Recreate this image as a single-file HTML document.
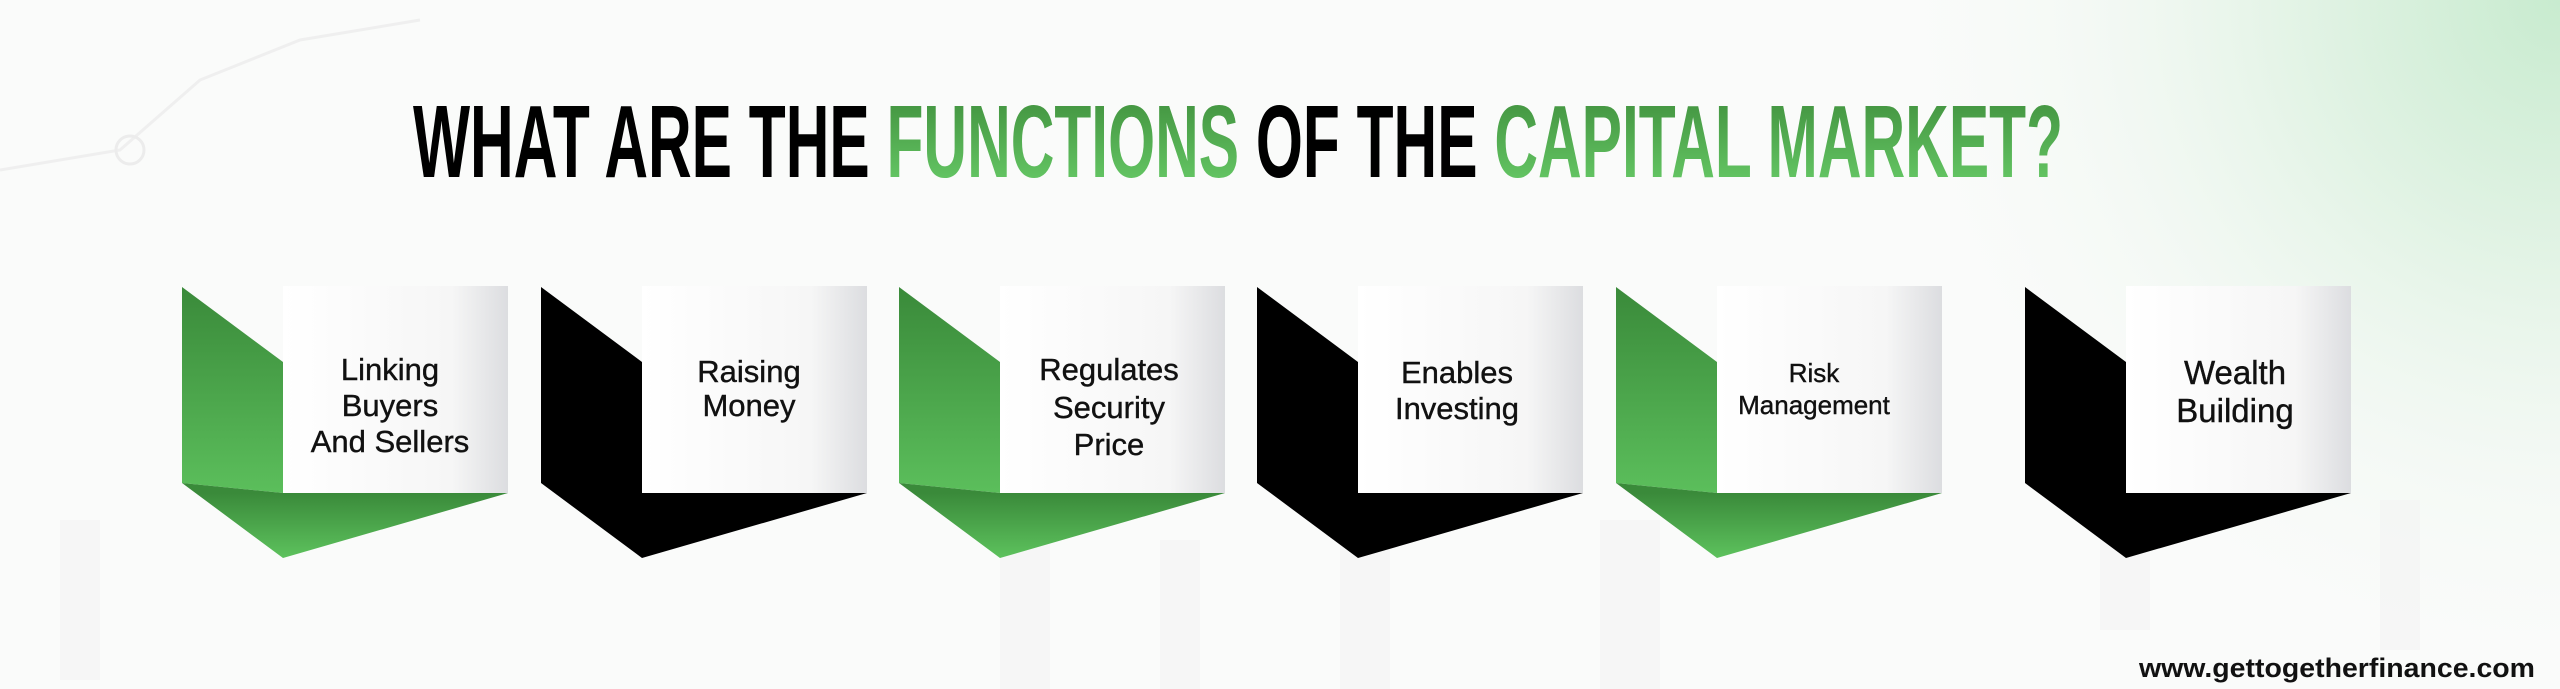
<!DOCTYPE html>
<html><head><meta charset="utf-8"><style>
html,body{margin:0;padding:0}
body{width:2560px;height:689px;overflow:hidden;background:#fafbfa;position:relative;font-family:"Liberation Sans",sans-serif}
svg{position:absolute;left:0;top:0}
</style></head><body>
<svg width="2560" height="689" viewBox="0 0 2560 689" xmlns="http://www.w3.org/2000/svg">
<defs>
<radialGradient id="tr" cx="2560" cy="0" r="700" gradientUnits="userSpaceOnUse">
<stop offset="0" stop-color="#c8ebcf"/><stop offset="0.45" stop-color="#e8f5ea"/><stop offset="1" stop-color="#fafbfa" stop-opacity="0"/>
</radialGradient>
<linearGradient id="g2" gradientUnits="userSpaceOnUse" x1="0" y1="287" x2="0" y2="558"><stop offset="0" stop-color="#3a8a3a"/><stop offset="1" stop-color="#66cf66"/></linearGradient>
<linearGradient id="gb" gradientUnits="userSpaceOnUse" x1="0" y1="493" x2="0" y2="558"><stop offset="0" stop-color="#3a8a3a"/><stop offset="1" stop-color="#5dc25d"/></linearGradient>
<linearGradient id="pw" x1="0" y1="0" x2="1" y2="0"><stop offset="0" stop-color="#ffffff"/><stop offset="0.75" stop-color="#f6f6f6"/><stop offset="1" stop-color="#dcdde0"/></linearGradient>
<linearGradient id="tg" x1="0" y1="0" x2="0" y2="1"><stop offset="0" stop-color="#3d8b3a"/><stop offset="1" stop-color="#6bd06b"/></linearGradient>
</defs>
<rect width="2560" height="689" fill="url(#tr)"/>
<g fill="#f1f2f2" opacity="0.5">
<rect x="60" y="520" width="40" height="160"/><rect x="1000" y="520" width="50" height="169"/><rect x="1160" y="540" width="40" height="149"/><rect x="1340" y="530" width="50" height="159"/><rect x="1600" y="520" width="60" height="169"/><rect x="2100" y="510" width="50" height="120"/><rect x="2380" y="500" width="40" height="150"/>
</g>
<polyline points="0,170 120,150 200,80 300,40 420,20" fill="none" stroke="#efefef" stroke-width="3"/>
<circle cx="130" cy="150" r="14" fill="none" stroke="#ececec" stroke-width="3"/>
<text x="413" y="177" font-family="'Liberation Sans Narrow','Liberation Sans',sans-serif" font-weight="bold" font-size="103" textLength="1650" lengthAdjust="spacingAndGlyphs"><tspan fill="#000">WHAT ARE THE </tspan><tspan fill="url(#tg)">FUNCTIONS</tspan><tspan fill="#000"> OF THE </tspan><tspan fill="url(#tg)">CAPITAL MARKET?</tspan></text>

<g font-family="'Liberation Sans',sans-serif" font-size="31" fill="#111" text-anchor="middle" stroke="#111" stroke-width="0.4">
<g transform="translate(182,0)">
<polygon points="0,287 101,362 101,493 0,483" fill="url(#g2)" stroke="none"/>
<polygon points="101,493 326,493 101,558 0,483" fill="url(#gb)" stroke="none"/>
<rect x="101" y="286" width="225" height="207" fill="url(#pw)" stroke="none"/>
<text x="208" y="380">Linking</text><text x="208" y="416">Buyers</text><text x="208" y="452">And Sellers</text>
</g>
<g transform="translate(541,0)">
<polygon points="0,287 101,362 101,493 326,493 101,558 0,483" fill="#000" stroke="none"/>
<rect x="101" y="286" width="225" height="207" fill="url(#pw)" stroke="none"/>
<text x="208" y="382">Raising</text><text x="208" y="416">Money</text>
</g>
<g transform="translate(899,0)">
<polygon points="0,287 101,362 101,493 0,483" fill="url(#g2)" stroke="none"/>
<polygon points="101,493 326,493 101,558 0,483" fill="url(#gb)" stroke="none"/>
<rect x="101" y="286" width="225" height="207" fill="url(#pw)" stroke="none"/>
<text x="210" y="380">Regulates</text><text x="210" y="418">Security</text><text x="210" y="455">Price</text>
</g>
<g transform="translate(1257,0)">
<polygon points="0,287 101,362 101,493 326,493 101,558 0,483" fill="#000" stroke="none"/>
<rect x="101" y="286" width="225" height="207" fill="url(#pw)" stroke="none"/>
<text x="200" y="383">Enables</text><text x="200" y="419">Investing</text>
</g>
<g transform="translate(1616,0)">
<polygon points="0,287 101,362 101,493 0,483" fill="url(#g2)" stroke="none"/>
<polygon points="101,493 326,493 101,558 0,483" fill="url(#gb)" stroke="none"/>
<rect x="101" y="286" width="225" height="207" fill="url(#pw)" stroke="none"/>
<text x="198" y="382" font-size="26">Risk</text><text x="198" y="414" font-size="26">Management</text>
</g>
<g transform="translate(2025,0)">
<polygon points="0,287 101,362 101,493 326,493 101,558 0,483" fill="#000" stroke="none"/>
<rect x="101" y="286" width="225" height="207" fill="url(#pw)" stroke="none"/>
<text x="210" y="384" font-size="33">Wealth</text><text x="210" y="422" font-size="33">Building</text>
</g>
</g>
<text x="2535" y="677" text-anchor="end" font-family="'Liberation Sans',sans-serif" font-size="27" font-weight="bold" fill="#111" textLength="396" lengthAdjust="spacingAndGlyphs">www.gettogetherfinance.com</text>
</svg>
</body></html>
